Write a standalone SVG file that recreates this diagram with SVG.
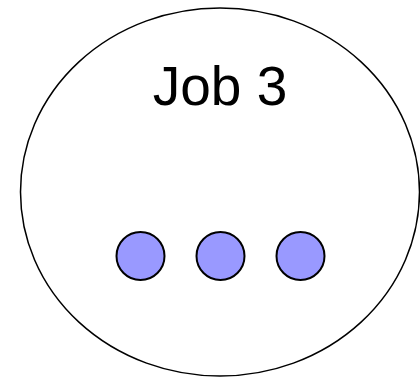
<svg xmlns="http://www.w3.org/2000/svg" width="420" height="378" viewBox="0 0 420 378">
<style>
.dot{fill:#9999ff;stroke:#000;stroke-width:2}
.lbl{font-family:"Liberation Sans",Arial,sans-serif;font-size:55px;fill:#000;text-anchor:middle}
</style>
<rect width="420" height="378" fill="#fff"/>
<g id="job3">
<ellipse cx="220" cy="192" rx="199.5" ry="184" fill="#fff" stroke="#000" stroke-width="1.5"/>
<text class="lbl" x="220" y="105">Job 3</text>
</g>
<g id="dot1"><circle class="dot" cx="140.5" cy="256" r="24"/></g>
<g id="dot2"><circle class="dot" cx="220.5" cy="256" r="24"/></g>
<g id="dot3"><circle class="dot" cx="300.5" cy="256" r="24"/></g>
<g id="connectors"/>
</svg>
